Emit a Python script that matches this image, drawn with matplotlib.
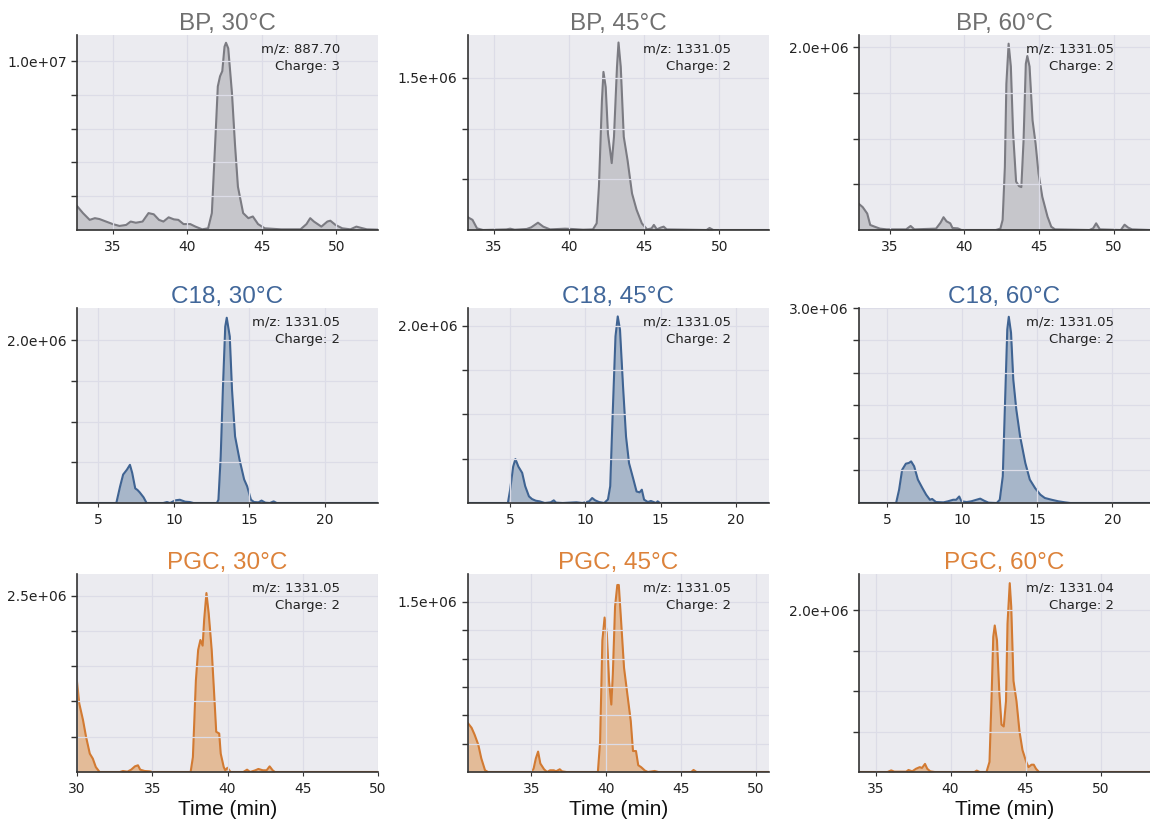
import matplotlib
matplotlib.use("Agg")
import matplotlib.pyplot as plt
from matplotlib.ticker import FixedLocator, FormatStrFormatter

# ---- chromatogram traces (time in min, intensity) ----
bp30_t = [32.6, 33.0, 33.45, 33.8, 34.1, 34.55, 35.0, 35.45, 35.9, 36.2, 36.55, 37.0, 37.4, 37.75,
          38.1, 38.4, 38.75, 39.1, 39.4, 39.75, 40.2, 40.55, 41.0, 41.4, 41.65, 41.85, 42.05, 42.2,
          42.35, 42.5, 42.6, 42.75, 43.0, 43.2, 43.4, 43.75, 44.1, 44.4, 44.75, 45.2, 46.3, 47.6,
          48.0, 48.25, 48.5, 49.0, 49.4, 49.6, 49.95, 50.4, 50.95, 51.35, 51.6, 52.05, 52.8]
bp30_y = [1.42, 1.0, 0.6, 0.7, 0.65, 0.5, 0.35, 0.24, 0.3, 0.5, 0.43, 0.5, 1.0, 0.93,
          0.6, 0.5, 0.75, 0.63, 0.6, 0.35, 0.35, 0.2, 0.04, 0.1, 1.0, 4.7, 8.5, 9.1,
          9.4, 10.85, 11.08, 10.75, 8.1, 5.1, 2.56, 1.0, 0.7, 0.8, 0.35, 0.1, 0.04, 0.04,
          0.35, 0.7, 0.5, 0.2, 0.5, 0.55, 0.3, 0.1, 0.04, 0.2, 0.14, 0.04, 0.02]

bp45_t = [33.3, 33.6, 33.9, 34.3, 35.85, 36.1, 36.4, 37.2, 37.5, 37.95, 38.3, 38.75, 39.75, 40.2,
          40.95, 41.6, 41.85, 42.0, 42.2, 42.3, 42.45, 42.6, 42.85, 43.0, 43.2, 43.3, 43.45, 43.65,
          43.9, 44.2, 44.5, 44.85, 45.2, 45.5, 45.65, 45.85, 46.1, 46.3, 46.5, 49.15, 49.35, 49.6, 53.3]
bp45_y = [0.125, 0.1, 0.016, 0.0, 0.006, 0.013, 0.003, 0.01, 0.026, 0.072, 0.033, 0.006, 0.013, 0.01,
          0.003, 0.006, 0.066, 0.43, 1.28, 1.56, 1.41, 0.95, 0.66, 0.92, 1.61, 1.85, 1.61, 0.92,
          0.69, 0.36, 0.2, 0.066, 0.006, 0.016, 0.05, 0.006, 0.023, 0.033, 0.006, 0.0, 0.02, 0.0, 0.0]

bp60_t = [32.95, 33.2, 33.5, 33.7, 34.0, 34.35, 34.8, 36.1, 36.4, 36.65, 38.1, 38.4, 38.6, 38.8,
          39.05, 39.2, 39.55, 39.8, 42.1, 42.4, 42.55, 42.7, 42.8, 42.95, 43.1, 43.25, 43.45, 43.65,
          43.8, 43.95, 44.1, 44.2, 44.35, 44.55, 44.75, 44.95, 45.2, 45.55, 45.8, 46.05, 48.35, 48.6,
          48.8, 49.05, 50.45, 50.7, 50.95, 51.2, 52.4]
bp60_y = [0.285, 0.25, 0.18, 0.055, 0.036, 0.015, 0.007, 0.007, 0.044, 0.007, 0.015, 0.08, 0.14, 0.095,
          0.073, 0.022, 0.018, 0.0, 0.0, 0.015, 0.11, 0.69, 1.6, 2.04, 1.79, 1.06, 0.53, 0.48,
          0.47, 0.985, 1.82, 1.905, 1.79, 1.2, 0.95, 0.62, 0.365, 0.146, 0.036, 0.007, 0.0, 0.018,
          0.073, 0.007, 0.0, 0.058, 0.025, 0.007, 0.0]

c1830_t = [3.6, 6.2, 6.45, 6.65, 6.9, 7.1, 7.25, 7.45, 7.6, 7.75, 8.0, 8.2, 9.3, 9.55, 9.75,
           10.1, 10.4, 10.75, 11.05, 11.3, 12.85, 12.95, 13.1, 13.25, 13.4, 13.5, 13.7, 13.85,
           14.05, 14.35, 14.65, 14.85, 15.1, 15.3, 15.6, 15.8, 16.05, 16.35, 16.6, 16.8, 23.5]
c1830_y = [0.0, 0.0, 0.205, 0.35, 0.41, 0.47, 0.37, 0.18, 0.16, 0.13, 0.07, 0.0, 0.0, 0.012, 0.0,
           0.033, 0.04, 0.016, 0.012, 0.0, 0.0, 0.04, 0.57, 1.43, 2.17, 2.28, 2.05, 1.39,
           0.82, 0.53, 0.29, 0.205, 0.04, 0.012, 0.008, 0.03, 0.004, 0.0, 0.02, 0.0, 0.0]

c1845_t = [2.2, 4.85, 5.0, 5.2, 5.35, 5.55, 5.8, 6.0, 6.25, 6.45, 6.7, 6.95, 7.3, 7.7, 7.9, 8.05,
           8.5, 9.4, 9.8, 10.25, 10.45, 10.65, 10.9, 11.25, 11.5, 11.65, 11.8, 12.0, 12.15, 12.3,
           12.5, 12.7, 12.9, 13.2, 13.4, 13.6, 13.75, 13.9, 14.15, 14.35, 14.7, 14.8, 14.95, 22.2]
c1845_y = [0.0, 0.0, 0.15, 0.41, 0.496, 0.41, 0.34, 0.19, 0.075, 0.045, 0.026, 0.019, 0.0, 0.008, 0.03, 0.004,
           0.0, 0.008, 0.0, 0.019, 0.056, 0.03, 0.011, 0.0, 0.04, 0.19, 0.94, 1.88, 2.105, 1.955,
           1.32, 0.75, 0.45, 0.26, 0.13, 0.12, 0.15, 0.038, 0.011, 0.023, 0.0, 0.019, 0.0, 0.0]

c1860_t = [3.13, 5.6, 5.8, 6.0, 6.25, 6.45, 6.6, 6.8, 7.05, 7.35, 7.6, 7.85, 8.0, 8.25, 8.75, 9.05,
           9.4, 9.6, 9.8, 9.95, 10.3, 10.6, 10.95, 11.2, 11.45, 11.75, 12.3, 12.5, 12.7, 12.85, 13.0,
           13.1, 13.25, 13.4, 13.6, 13.85, 14.2, 14.5, 14.85, 15.2, 15.5, 15.95, 16.4, 16.85, 17.2, 22.5]
c1860_y = [0.0, 0.0, 0.205, 0.51, 0.605, 0.616, 0.64, 0.565, 0.36, 0.23, 0.128, 0.05, 0.062, 0.015, 0.01, 0.026,
           0.05, 0.05, 0.1, 0.026, 0.015, 0.026, 0.05, 0.067, 0.036, 0.005, 0.0, 0.05, 0.41, 1.54, 2.67,
           2.865, 2.62, 1.9, 1.44, 1.03, 0.616, 0.36, 0.23, 0.128, 0.077, 0.05, 0.026, 0.01, 0.0, 0.0]

pgc30_t = [30.0, 30.15, 30.4, 30.6, 30.85, 31.05, 31.25, 31.5, 32.85, 33.05, 33.35, 33.6, 33.85, 34.05,
           34.2, 34.5, 34.8, 35.05, 37.55, 37.7, 37.9, 38.05, 38.2, 38.35, 38.45, 38.6, 38.75, 38.95,
           39.1, 39.25, 39.45, 39.55, 39.75, 39.85, 40.0, 40.2, 41.05, 41.3, 41.5, 41.85, 42.05, 42.35,
           42.6, 42.8, 43.0, 43.15, 50.0]
pgc30_y = [1.28, 0.97, 0.735, 0.5, 0.26, 0.19, 0.07, 0.0, 0.0, 0.014, 0.005, 0.033, 0.08, 0.095,
           0.033, 0.014, 0.01, 0.0, 0.0, 0.21, 1.3, 1.73, 1.87, 1.79, 2.16, 2.535, 2.25, 1.73,
           1.16, 0.57, 0.545, 0.26, 0.07, 0.024, 0.06, 0.0, 0.0, 0.033, 0.0, 0.024, 0.043, 0.024,
           0.024, 0.08, 0.024, 0.0, 0.0]

pgc45_t = [30.76, 31.0, 31.2, 31.45, 31.65, 31.9, 32.1, 35.0, 35.15, 35.3, 35.45, 35.6, 35.85, 36.05,
           36.25, 36.5, 36.65, 36.9, 37.05, 37.35, 39.45, 39.6, 39.75, 39.9, 40.05, 40.2, 40.35, 40.45,
           40.6, 40.75, 40.85, 41.0, 41.2, 41.4, 41.65, 41.8, 42.0, 42.15, 42.35, 42.6, 42.8, 43.25,
           43.5, 45.7, 45.85, 46.05, 50.9]
pgc45_y = [0.43, 0.39, 0.33, 0.24, 0.12, 0.015, 0.0, 0.0, 0.03, 0.12, 0.18, 0.075, 0.024, 0.0,
           0.015, 0.015, 0.006, 0.024, 0.006, 0.0, 0.0, 0.27, 1.16, 1.363, 1.22, 0.8, 0.595, 0.86,
           1.46, 1.65, 1.65, 1.34, 0.92, 0.71, 0.45, 0.185, 0.185, 0.06, 0.042, 0.012, 0.0, 0.009,
           0.0, 0.0, 0.018, 0.0, 0.0]

pgc60_t = [33.9, 35.8, 36.05, 36.25, 37.05, 37.2, 37.45, 37.7, 37.95, 38.1, 38.3, 38.45, 38.65, 38.95,
           41.6, 41.75, 41.95, 42.4, 42.6, 42.75, 42.85, 42.95, 43.1, 43.25, 43.4, 43.55, 43.7, 43.8,
           43.95, 44.05, 44.2, 44.4, 44.6, 44.8, 45.05, 45.2, 45.4, 45.55, 45.7, 45.9, 53.3]
pgc60_y = [0.0, 0.0, 0.02, 0.004, 0.004, 0.025, 0.008, 0.04, 0.06, 0.05, 0.1, 0.04, 0.008, 0.0,
           0.0, 0.017, 0.0, 0.0, 0.125, 1.0, 1.67, 1.81, 1.625, 1.0, 0.585, 0.5625, 0.875, 1.83,
           2.333, 2.04, 1.125, 0.875, 0.5, 0.27, 0.125, 0.06, 0.09, 0.09, 0.04, 0.0, 0.0]

titles = ["BP, 30°C", "BP, 45°C", "BP, 60°C",
          "C18, 30°C", "C18, 45°C", "C18, 60°C",
          "PGC, 30°C", "PGC, 45°C", "PGC, 60°C"]
mz = ["887.70", "1331.05", "1331.05",
      "1331.05", "1331.05", "1331.05",
      "1331.05", "1331.05", "1331.04"]
charge = [3, 2, 2, 2, 2, 2, 2, 2, 2]
traces = [(bp30_t, bp30_y), (bp45_t, bp45_y), (bp60_t, bp60_y),
          (c1830_t, c1830_y), (c1845_t, c1845_y), (c1860_t, c1860_y),
          (pgc30_t, pgc30_y), (pgc45_t, pgc45_y), (pgc60_t, pgc60_y)]
scale = [1e6] * 9
xlims = [(32.6, 52.8), (33.3, 53.3), (32.95, 52.4),
         (3.6, 23.5), (2.2, 22.2), (3.13, 22.5),
         (30.0, 50.0), (30.76, 50.9), (33.9, 53.3)]
ylims = [11.54e6, 1.924e6, 2.135e6,
         2.40e6, 2.20e6, 3.0e6,
         2.805e6, 1.747e6, 2.446e6]
ymajor = [1.0e7, 1.5e6, 2.0e6, 2.0e6, 2.0e6, 3.0e6, 2.5e6, 1.5e6, 2.0e6]
ystep = [2e6, 5e5, 5e5, 5e5, 5e5, 5e5, 5e5, 2.5e5, 5e5]
xticks = [[35, 40, 45, 50]] * 3 + [[5, 10, 15, 20]] * 3 + [[30, 35, 40, 45, 50], [35, 40, 45, 50], [35, 40, 45, 50]]

# line / fill / title colours per stationary phase
line_c = ["#7b7b82", "#3f6392", "#d27a32"]
fill_c = ["#c6c6cb", "#a7b6c9", "#e3bb98"]
title_c = ["#707070", "#41679a", "#dc823a"]

W, H = 1150, 822
fig = plt.figure(figsize=(W / 100, H / 100), dpi=100)
col_x = [77, 468, 859]
col_w = [301, 301, 291]
row_y = [35, 308, 574]
row_h = [195, 195, 198]

for i in range(9):
    r, c = divmod(i, 3)
    ax = fig.add_axes([col_x[c] / W, 1 - (row_y[r] + row_h[r]) / H, col_w[c] / W, row_h[r] / H])
    ax.set_facecolor("#ebebf0")
    t, y = traces[i]
    yy = [v * scale[i] for v in y]
    ax.fill_between(t, yy, 0, color=fill_c[r], zorder=1, linewidth=0)
    ax.plot(t, yy, color=line_c[r], lw=1.5, zorder=2)

    ax.set_xlim(*xlims[i])
    ax.set_ylim(0, ylims[i])
    ax.set_xticks(xticks[i])
    ax.yaxis.set_major_locator(FixedLocator([ymajor[i]]))
    n = int(round(ylims[i] / ystep[i])) + 1
    ax.yaxis.set_minor_locator(FixedLocator([ystep[i] * k for k in range(1, n) if abs(ystep[i] * k - ymajor[i]) > 1]))
    ax.yaxis.set_major_formatter(FormatStrFormatter("%.1e"))
    ax.set_axisbelow(False)
    ax.grid(True, which="both", color="#dcdce7", lw=0.9, zorder=3)
    ax.grid(False, which="minor", axis="x")

    for s in ["top", "right"]:
        ax.spines[s].set_visible(False)
    for s in ["left", "bottom"]:
        ax.spines[s].set_color("#333333")
        ax.spines[s].set_linewidth(1.2)
        ax.spines[s].set_zorder(4)
    ax.tick_params(axis="both", which="both", colors="#333333", labelcolor="#222222", labelsize=10)
    ax.tick_params(axis="y", which="major", length=4, width=1)
    ax.tick_params(axis="y", which="minor", length=4, width=1)
    ax.tick_params(axis="x", which="major", length=3, width=0.8, pad=4)

    ax.set_title(titles[i], fontsize=17.5, color=title_c[r], family="Liberation Sans", pad=3)
    ax.text(0.875, 0.96, "m/z: %s\nCharge: %d" % (mz[i], charge[i]), transform=ax.transAxes,
            ha="right", va="top", fontsize=9.5, color="#222222", linespacing=1.45, zorder=5)
    if r == 2:
        ax.set_xlabel("Time (min)", fontsize=15, family="Liberation Sans", color="#111111", labelpad=3)

fig.savefig("out.png", dpi=100, facecolor="white")
